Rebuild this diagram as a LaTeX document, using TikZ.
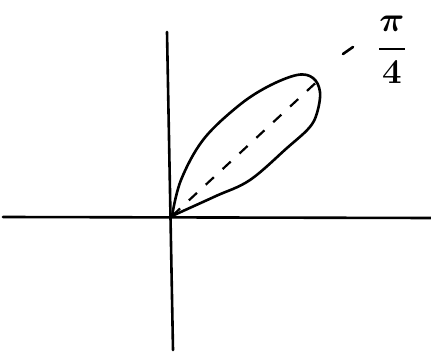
\documentclass[tikz,border=0pt]{standalone}
\usepackage{amsmath}
\usetikzlibrary{positioning}
\begin{document}
\begin{tikzpicture}[
    x=1pt, y=-1pt,
    axis/.style={line width=2.6pt, line cap=round},
    petal/.style={line width=2.6pt, line join=round, line cap=round},
    guide/.style={line width=2.2pt, dash pattern=on 11pt off 12pt},
    angle label/.style={font=\fontsize{24.88}{30}\selectfont\boldmath, inner sep=0pt},
  ]
    \useasboundingbox (0,0) rectangle (431,352);

    % axes
    \coordinate (O) at (172,216);
    \coordinate (xl) at (3,217);
    \coordinate (xr) at (431,218);
    \coordinate (yt) at (167,32);
    \coordinate (yb) at (173,350);
    \draw[axis] (xl) -- (xr);
    \draw[axis] (yt) -- (yb);

    % petal
    \draw[petal] plot[smooth, tension=0.6] coordinates {
      (172,216) (181,180) (203,140) (237,107) (267,87) (297,75)
      (313,78) (320,92) (317,113) (309,128) (287,148) (250,180)
      (216,196) (183,211) (172,216)};

    % angle line and label
    \coordinate (tip) at (322,77);
    \draw[guide] (O) -- (tip);
    \node[angle label] (lbl) at (392,50) {\scalebox{1.4}{$\dfrac{\pi}{4}$}};
    \coordinate (m1) at (343,54);
    \coordinate (m2) at (353,47);
    \draw[axis] (m1) -- (m2);
\end{tikzpicture}
\end{document}
